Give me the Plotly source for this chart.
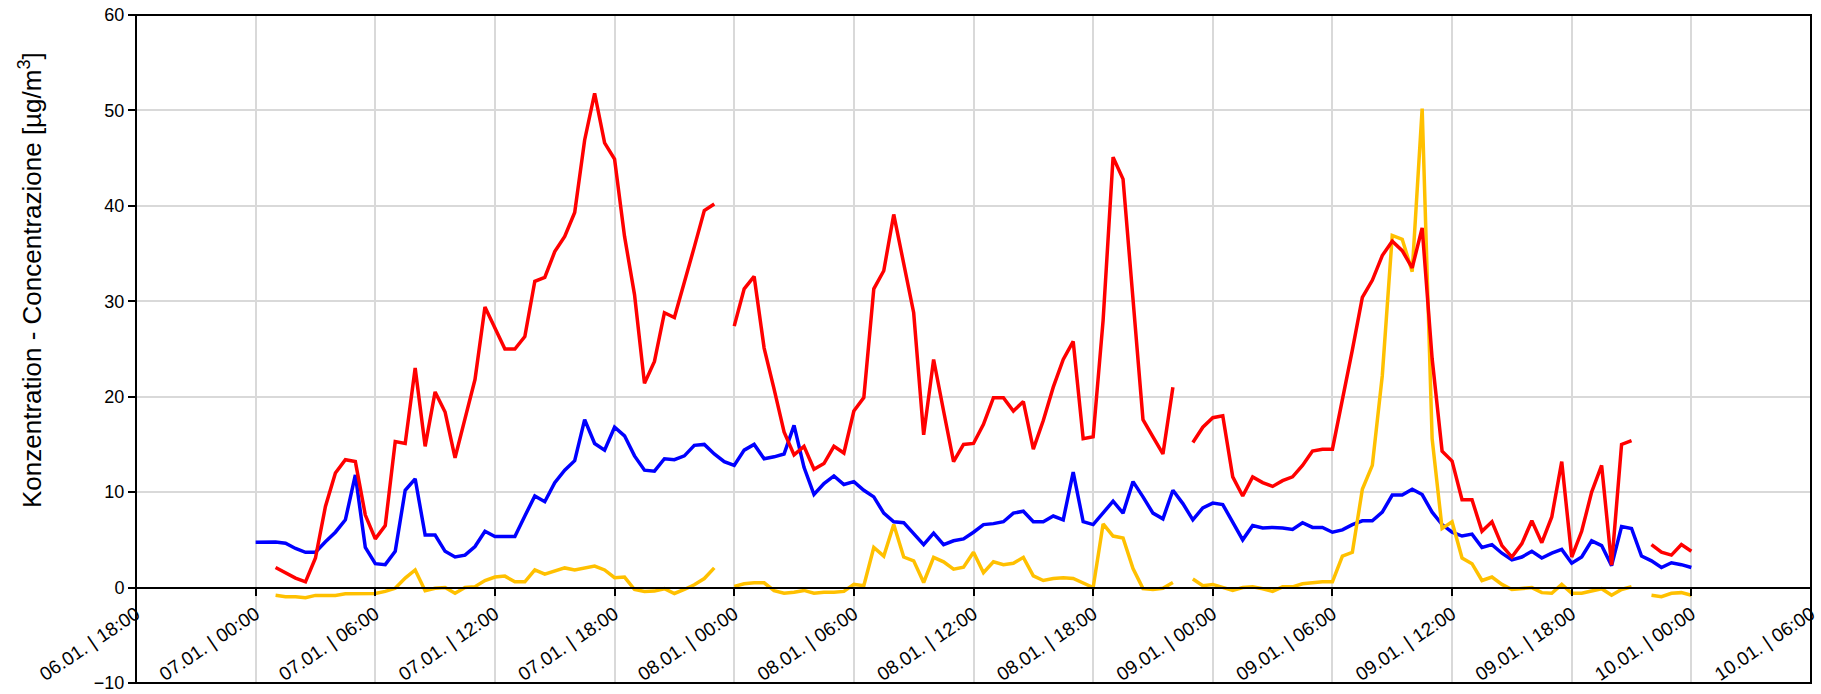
import pandas as pd
import plotly.graph_objects as go

# Half-hourly values, 07.01. 00:00 ... 10.01. 00:00 (145 points), None = missing
start_time = "2025-01-07 00:00"
step = "30min"

red = [None, None, 2.1, 1.55, 1.0, 0.6, 3.1, 8.5, 12.0, 13.4, 13.2, 7.6, 5.1, 6.5, 15.3, 15.1, 23.0, 14.8, 20.5, 18.4,
       13.6, 17.7, 21.8, 29.4, 27.2, 25.0, 25.0, 26.3, 32.1, 32.5,
       35.2, 36.8, 39.3, 46.9, 51.8, 46.6, 44.9, 36.8, 30.7, 21.4, 23.7, 28.8, 28.3, 31.9, 35.7, 39.5, 40.2, None,
       27.4, 31.3, 32.6, 25.1, 20.8, 16.3, 13.9, 14.8, 12.4, 13.0, 14.8, 14.1,
       18.5, 19.9, 31.3, 33.2, 39.1, 34.1, 28.8, 16.0, 23.9, 18.5, 13.2, 15.0, 15.1, 17.1, 19.9, 19.9, 18.5, 19.5,
       14.5, 17.5, 21.0, 23.9, 25.8, 15.6, 15.8, 28.0, 45.1, 42.8, 30.2, 17.6,
       15.8, 14.0, 21.0, None, 15.2, 16.8, 17.8, 18.0, 11.6, 9.6, 11.6, 11.0, 10.6, 11.2, 11.6, 12.8, 14.3, 14.5,
       14.5, 19.5, 24.9, 30.4, 32.2, 34.8, 36.3, 35.3, 33.5, 37.7, 24.0, 14.3,
       13.25, 9.2, 9.2, 5.9, 6.9, 4.4, 3.2, 4.6, 7.0, 4.7, 7.4, 13.2, 3.2, 5.9, 10.0, 12.8, 2.35, 15.0, 15.4, None,
       4.5, 3.7, 3.4, 4.5, 3.8]

blue = [4.75, 4.8, 4.77, 4.65, 4.1, 3.7, 3.7, 4.8, 5.8, 7.1, 11.8, 4.2, 2.5, 2.4, 3.8, 10.2, 11.4, 5.5, 5.5, 3.8,
        3.2, 3.4, 4.3, 5.9, 5.35, 5.35, 5.35, 7.5, 9.6, 9.0,
        11.0, 12.3, 13.3, 17.6, 15.1, 14.4, 16.8, 15.9, 13.8, 12.3, 12.2, 13.5, 13.4, 13.8, 14.9, 15.0, 14.0, 13.2,
        12.8, 14.4, 15.0, 13.5, 13.7, 14.0, 17.0, 12.6, 9.75, 10.9, 11.7, 10.8,
        11.1, 10.2, 9.5, 7.8, 6.9, 6.8, 5.7, 4.5, 5.7, 4.5, 4.9, 5.1, 5.8, 6.6, 6.7, 6.9, 7.8, 8.0,
        6.9, 6.9, 7.5, 7.1, 12.1, 6.9, 6.6, 7.8, 9.05, 7.8, 11.1, 9.5,
        7.8, 7.2, 10.2, 8.8, 7.1, 8.35, 8.85, 8.7, 6.9, 5.0, 6.5, 6.25, 6.3, 6.25, 6.1, 6.8, 6.3, 6.3,
        5.8, 6.05, 6.6, 7.0, 7.0, 7.9, 9.7, 9.7, 10.3, 9.75, 7.9, 6.6,
        5.8, 5.4, 5.6, 4.2, 4.5, 3.6, 2.9, 3.2, 3.8, 3.1, 3.6, 4.0, 2.55, 3.2, 4.9, 4.4, 2.3, 6.4, 6.2, 3.3,
        2.8, 2.1, 2.6, 2.4, 2.1]

yellow = [None, None, -0.8, -0.95, -0.95, -1.07, -0.82, -0.82, -0.82, -0.66, -0.62, -0.62, -0.62, -0.4, -0.08, 1.0,
          1.85, -0.33, -0.08, 0.0, -0.6, 0.0, 0.1, 0.74, 1.1, 1.2, 0.6, 0.6, 1.85, 1.4,
          1.73, 2.06, 1.85, 2.06, 2.26, 1.85, 1.03, 1.1, -0.2, -0.4, -0.37, -0.12, -0.62, -0.2, 0.3, 0.95, 2.06, None,
          0.12, 0.4, 0.5, 0.5, -0.33, -0.6, -0.5, -0.3, -0.6, -0.5, -0.5, -0.4,
          0.33, 0.2, 4.2, 3.3, 6.6, 3.2, 2.8, 0.53, 3.17, 2.7, 1.93, 2.14, 3.7, 1.56, 2.7, 2.4, 2.55, 3.17,
          1.23, 0.74, 0.95, 1.03, 0.95, 0.5, 0.0, 6.67, 5.4, 5.2, 2.0, -0.1,
          -0.2, -0.08, 0.53, None, 0.9, 0.2, 0.33, 0.0, -0.3, 0.0, 0.08, -0.12, -0.4, 0.08, 0.08, 0.4, 0.53, 0.6,
          0.6, 3.3, 3.7, 10.3, 12.8, 22.2, 36.9, 36.5, 33.1, 50.2, 15.6, 6.2,
          6.9, 3.1, 2.5, 0.74, 1.1, 0.33, -0.2, -0.1, 0.0, -0.53, -0.6, 0.33, -0.6, -0.6, -0.4, -0.12, -0.8, -0.2,
          0.08, None, -0.8, -0.95, -0.6, -0.53, -0.8]

tick_start = "2025-01-06 18:00"
tick_step = "6h"
tick_labels = ["06.01. | 18:00", "07.01. | 00:00", "07.01. | 06:00", "07.01. | 12:00", "07.01. | 18:00",
               "08.01. | 00:00", "08.01. | 06:00", "08.01. | 12:00", "08.01. | 18:00",
               "09.01. | 00:00", "09.01. | 06:00", "09.01. | 12:00", "09.01. | 18:00",
               "10.01. | 00:00", "10.01. | 06:00"]
y_ticks = [-10, 0, 10, 20, 30, 40, 50, 60]
y_title = "Konzentration - Concentrazione [µg/m<sup>3</sup>]"

times = pd.date_range(start_time, periods=len(blue), freq=step)
tickvals = pd.date_range(tick_start, periods=len(tick_labels), freq=tick_step)

fig = go.Figure()
for vals, color in [(blue, "#0000FF"), (yellow, "#FFC000"), (red, "#FF0000")]:
    fig.add_trace(go.Scatter(x=times, y=vals, mode="lines", connectgaps=False,
                             line=dict(color=color, width=3.5), hoverinfo="skip"))

ymin, ymax = y_ticks[0], y_ticks[-1]
fig.update_layout(
    width=1821, height=694,
    margin=dict(l=136, r=10, t=15, b=11),
    plot_bgcolor="white", paper_bgcolor="white",
    showlegend=False,
    font=dict(family="Liberation Sans, Arial", size=18, color="black"),
)
fig.update_xaxes(
    range=[tickvals[0], tickvals[-1]],
    tickvals=tickvals, ticktext=tick_labels, tickangle=-34,
    tickfont=dict(family="Liberation Sans, Arial", size=19),
    ticklabeloverflow="allow",
    showgrid=True, gridcolor="#d9d9d9", gridwidth=2,
    anchor="free", position=(0 - ymin) / (ymax - ymin),
    showline=True, linecolor="black", linewidth=2,
    ticks="outside", ticklen=7, tickwidth=2, tickcolor="black",
    automargin=False, zeroline=False,
)
fig.update_yaxes(
    range=[ymin, ymax], tickvals=y_ticks,
    tickfont=dict(family="Liberation Sans, Arial", size=18),
    ticklabeloverflow="allow",
    showgrid=True, gridcolor="#d9d9d9", gridwidth=2,
    showline=False, zeroline=False,
    ticks="outside", ticklen=7, tickwidth=2, tickcolor="black",
    automargin=False,
)
fig.add_shape(type="rect", xref="paper", yref="paper", x0=0, x1=1, y0=0, y1=1,
              line=dict(color="black", width=2), layer="above")
fig.add_annotation(text=y_title, xref="paper", yref="paper", x=-0.063, y=0.604,
                   textangle=-90, showarrow=False, xanchor="center", yanchor="middle",
                   font=dict(family="Liberation Sans, Arial", size=26, color="black"))

fig.write_html(
    "out.html",
    config={"displayModeBar": False},
    post_script="document.body.style.margin='0';document.body.style.overflow='hidden';"
                "document.documentElement.style.overflow='hidden';",
)
